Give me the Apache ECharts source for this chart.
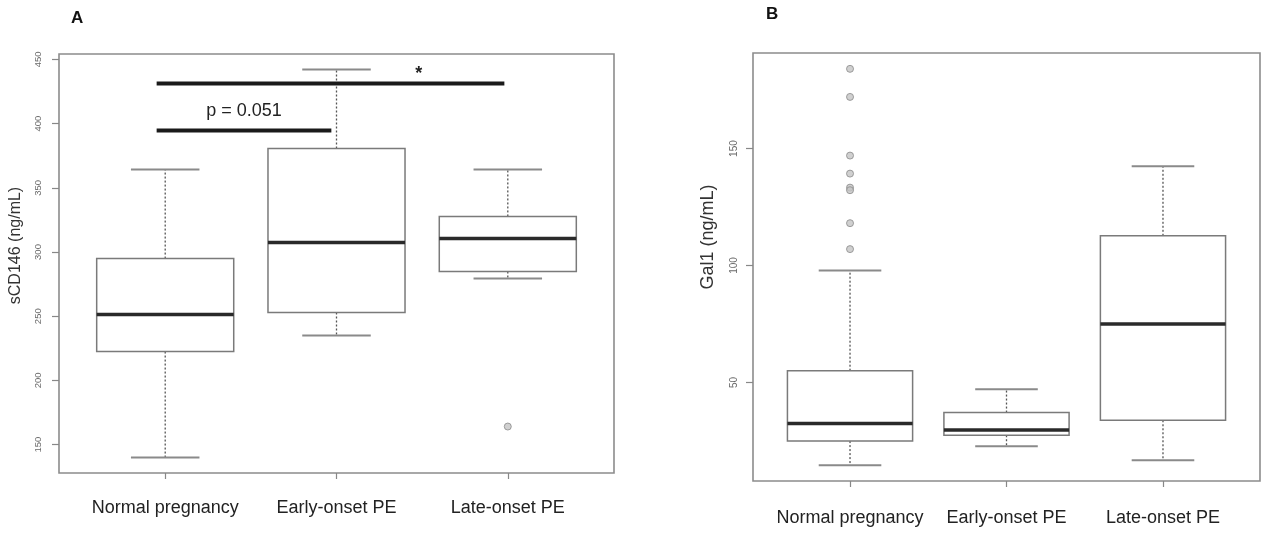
<!DOCTYPE html>
<html><head><meta charset="utf-8">
<script src="https://cdn.jsdelivr.net/npm/echarts@6/dist/echarts.min.js"></script>
<style>html,body{margin:0;padding:0;background:#fff}#c{width:1263px;height:533px}</style>
</head><body><div id="c"></div>
<script>
// ---- data ----
const categories = ['Normal pregnancy', 'Early-onset PE', 'Late-onset PE'];
// each box: [lower whisker, Q1, median, Q3, upper whisker]
const sCD146Boxes = [
  [140.0, 222.5, 251.3, 294.9, 364.3],
  [235.0, 252.9, 307.4, 380.6, 442.1],
  [279.4, 284.8, 310.5, 327.7, 364.3]
];
const sCD146Outliers = [[2, 164.1]];
const sCD146Ticks = [150, 200, 250, 300, 350, 400, 450];

const gal1Boxes = [
  [14.6, 24.9, 32.4, 55.0, 97.8],
  [22.7, 27.4, 29.6, 37.1, 47.1],
  [16.7, 33.8, 75.0, 112.7, 142.4]
];
const gal1Outliers = [[0, 184.1], [0, 172.1], [0, 147.0], [0, 139.3], [0, 133.3], [0, 132.2], [0, 118.1], [0, 107.0]];
const gal1Ticks = [50, 100, 150];

// significance brackets: [x start, x end, value]
const sigBrackets = [[-0.05, 0.97, 394.6], [-0.05, 1.98, 431.3]];
const sigLabelPos = [[0.46, 409.4], [1.48, 438.5]];
const sigLabelText = ['p = 0.051', '*'];

// ---- helpers ----
const FONT = 'Liberation Sans, Arial, Helvetica, sans-serif';
function rRange(boxes, outliers) {
  const vals = [];
  boxes.forEach(b => vals.push(...b));
  outliers.forEach(o => vals.push(o[1]));
  const lo = Math.min(...vals), hi = Math.max(...vals), pad = (hi - lo) * 0.04;
  return [lo - pad, hi + pad];
}
const rangeA = rRange(sCD146Boxes, sCD146Outliers);
const rangeB = rRange(gal1Boxes, gal1Outliers);

function boxRender(params, api) {
  const x = api.value(0);
  const pLo = api.coord([x, api.value(1)]);
  const pQ1 = api.coord([x, api.value(2)]);
  const pMed = api.coord([x, api.value(3)]);
  const pQ3 = api.coord([x, api.value(4)]);
  const pHi = api.coord([x, api.value(5)]);
  const halfW = api.size([0.4, 0])[0];
  const capW = api.size([0.2, 0])[0];
  const cx = pMed[0];
  const wh = {stroke: '#555', lineWidth: 1.3, lineDash: [2, 2]};
  const cap = {stroke: '#8a8a8a', lineWidth: 2};
  return {type: 'group', children: [
    {type: 'line', shape: {x1: cx, y1: pQ3[1], x2: cx, y2: pHi[1]}, style: wh},
    {type: 'line', shape: {x1: cx, y1: pQ1[1], x2: cx, y2: pLo[1]}, style: wh},
    {type: 'line', shape: {x1: cx - capW, y1: pHi[1], x2: cx + capW, y2: pHi[1]}, style: cap},
    {type: 'line', shape: {x1: cx - capW, y1: pLo[1], x2: cx + capW, y2: pLo[1]}, style: cap},
    {type: 'rect', shape: {x: cx - halfW, y: pQ3[1], width: 2 * halfW, height: pQ1[1] - pQ3[1]},
      style: {fill: '#fff', stroke: '#7a7a7a', lineWidth: 1.5}},
    {type: 'line', shape: {x1: cx - halfW, y1: pMed[1], x2: cx + halfW, y2: pMed[1]},
      style: {stroke: '#2a2a2a', lineWidth: 3.5}}
  ]};
}

function makeX(gridIndex, margin) {
  return {
    type: 'value', gridIndex, min: -0.62, max: 2.62,
    splitLine: {show: false}, axisLine: {show: false, onZero: false},
    axisTick: {show: true, customValues: [0, 1, 2], length: 6, lineStyle: {color: '#888', width: 1.2}},
    axisLabel: {show: true, customValues: [0, 1, 2], formatter: v => categories[Math.round(v)],
      margin, fontSize: 18, color: '#222', fontFamily: FONT}
  };
}
function makeY(gridIndex, range, ticks, name, fs, lfs, gap, margin, pad) {
  return {
    type: 'value', gridIndex, min: range[0], max: range[1],
    splitLine: {show: false}, axisLine: {show: false, onZero: false},
    axisTick: {show: true, customValues: ticks, length: 7, lineStyle: {color: '#888', width: 1.2}},
    axisLabel: {show: true, customValues: ticks, rotate: 90, fontSize: lfs, color: '#6a6a6a', margin, fontFamily: FONT},
    name, nameLocation: 'middle', nameGap: gap,
    nameTextStyle: {fontSize: fs, color: '#333', fontFamily: FONT, padding: [0, 0, 0, pad]}
  };
}

const chart = echarts.init(document.getElementById('c'), null, {renderer: 'canvas'});
chart.setOption({
  animation: false,
  backgroundColor: '#fff',
  textStyle: {fontFamily: FONT},
  title: [
    {text: 'A', left: 71, top: 10, padding: 0, textStyle: {fontSize: 17, fontWeight: 'bold', color: '#111', fontFamily: FONT}},
    {text: 'B', left: 766, top: 6, padding: 0, textStyle: {fontSize: 17, fontWeight: 'bold', color: '#111', fontFamily: FONT}}
  ],
  grid: [
    {left: 59, top: 54, width: 555, height: 419, show: true, borderColor: '#8c8c8c', borderWidth: 1.6, backgroundColor: 'transparent'},
    {left: 753, top: 53, width: 507, height: 428, show: true, borderColor: '#8c8c8c', borderWidth: 1.6, backgroundColor: 'transparent'}
  ],
  xAxis: [makeX(0, 26), makeX(1, 28)],
  yAxis: [
    makeY(0, rangeA, sCD146Ticks, 'sCD146 (ng/mL)', 16, 9.5, 35, 16, 36),
    makeY(1, rangeB, gal1Ticks, 'Gal1 (ng/mL)', 18, 10, 36, 14, 60)
  ],
  series: [
    {type: 'custom', xAxisIndex: 0, yAxisIndex: 0, renderItem: boxRender,
      encode: {x: 0, y: [1, 2, 3, 4, 5]}, data: sCD146Boxes.map((b, i) => [i, ...b])},
    {type: 'scatter', xAxisIndex: 0, yAxisIndex: 0, data: sCD146Outliers, symbolSize: 7,
      itemStyle: {color: '#c4c4c4', borderColor: '#8a8a8a', borderWidth: 1}},
    {type: 'custom', xAxisIndex: 1, yAxisIndex: 1, renderItem: boxRender,
      encode: {x: 0, y: [1, 2, 3, 4, 5]}, data: gal1Boxes.map((b, i) => [i, ...b])},
    {type: 'scatter', xAxisIndex: 1, yAxisIndex: 1, data: gal1Outliers, symbolSize: 7,
      itemStyle: {color: '#c4c4c4', borderColor: '#8a8a8a', borderWidth: 1}},
    {type: 'custom', xAxisIndex: 0, yAxisIndex: 0, encode: {x: [0, 1], y: 2}, data: sigBrackets,
      renderItem: (p, api) => {
        const a = api.coord([api.value(0), api.value(2)]);
        const b = api.coord([api.value(1), api.value(2)]);
        return {type: 'line', shape: {x1: a[0], y1: a[1], x2: b[0], y2: b[1]}, style: {stroke: '#1a1a1a', lineWidth: 4}};
      }},
    {type: 'custom', xAxisIndex: 0, yAxisIndex: 0, encode: {x: 0, y: 1}, data: sigLabelPos,
      renderItem: (p, api) => {
        const a = api.coord([api.value(0), api.value(1)]);
        const isStar = sigLabelText[p.dataIndex] === '*';
        return {type: 'text', x: a[0], y: a[1], style: {text: sigLabelText[p.dataIndex], fill: '#222',
          font: (isStar ? 'bold 18px ' : '18px ') + FONT, align: 'center', verticalAlign: 'middle'}};
      }}
  ]
});
</script>
</body></html>
